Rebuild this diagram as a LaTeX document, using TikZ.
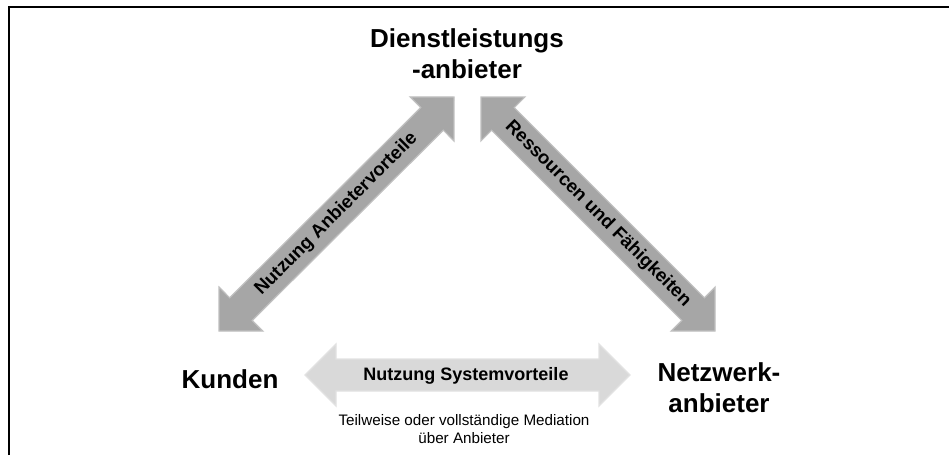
\documentclass[tikz,border=0pt]{standalone}
\usepackage{fontspec}
\setmainfont{Liberation Sans}
\usetikzlibrary{calc}
\definecolor{diagfill}{RGB}{166,166,166}
\definecolor{diagedge}{RGB}{192,192,192}
\definecolor{horzfill}{RGB}{217,217,217}
\definecolor{horzedge}{RGB}{226,226,226}
\newcommand{\dblarrow}[3]{%
  \coordinate (#1#2ha) at ($(#1)!31pt!(#2)$);
  \coordinate (#1#2hb) at ($(#2)!31pt!(#1)$);
  \path[#3] (#1) -- ($(#1#2ha)!31pt!90:(#2)$) -- ($(#1#2ha)!16pt!90:(#2)$)
    -- ($(#1#2hb)!16pt!-90:(#1)$) -- ($(#1#2hb)!31pt!-90:(#1)$) -- (#2)
    -- ($(#1#2hb)!31pt!90:(#1)$) -- ($(#1#2hb)!16pt!90:(#1)$)
    -- ($(#1#2ha)!16pt!-90:(#2)$) -- ($(#1#2ha)!31pt!-90:(#2)$) -- cycle;
}
\begin{document}
\begin{tikzpicture}[x=1pt,y=-1pt,
  actor/.style={font=\fontsize{26}{31}\selectfont\bfseries, align=center, inner sep=0pt},
  arrlabel/.style={font=\fontsize{18}{21}\selectfont\bfseries, inner sep=0pt},
  diaglabel/.style={font=\fontsize{18.6}{21}\selectfont\bfseries, inner sep=0pt},
  note/.style={font=\fontsize{15.2}{18}\selectfont, align=center, inner sep=0pt},
  diagarrow/.style={fill=diagfill, draw=diagedge, line width=1.2pt, line join=miter},
  horzarrow/.style={fill=horzfill, draw=horzedge, line width=1.2pt, line join=miter},
  frameline/.style={line width=2pt}]
\useasboundingbox (0,0) rectangle (949,455);
\fill[white] (0,0) rectangle (949,455);
\draw[frameline] (9,455) -- (9,7) -- (949,7);

\node[actor] (dl) at (467,54) {Dienstleistungs\\-anbieter};
\node[actor] (ku) at (230,379) {Kunden};
\node[actor] (nw) at (719,388) {Netzwerk-\\anbieter};

\coordinate (l1) at (219,331);
\coordinate (l2) at (454,97);
\coordinate (r1) at (481,97);
\coordinate (r2) at (715,331);
\coordinate (b1) at (305,375);
\coordinate (b2) at (630,375);

\dblarrow{l1}{l2}{diagarrow}
\dblarrow{r1}{r2}{diagarrow}
\dblarrow{b1}{b2}{horzarrow}

\node[diaglabel, rotate=45] (la) at ($(l1)!0.5!(l2)$) {Nutzung Anbietervorteile};
\node[diaglabel, rotate=-45] (ra) at ($(r1)!0.5!(r2)$) {Ressourcen und Fähigkeiten};
\node[arrlabel] (ba) at (466,376) {Nutzung Systemvorteile};
\node[note] (med) at (464,429) {Teilweise oder vollständige Mediation\\über Anbieter};
\end{tikzpicture}
\end{document}
